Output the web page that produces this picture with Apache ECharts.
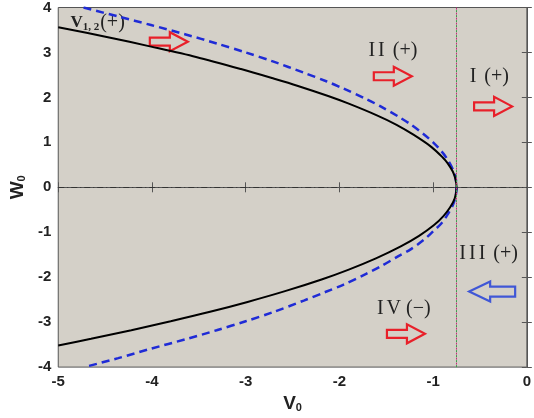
<!DOCTYPE html>
<html>
<head>
<meta charset="utf-8">
<script src="https://cdn.jsdelivr.net/npm/echarts@6/dist/echarts.min.js"></script>
<style>
  html, body { margin: 0; padding: 0; background: #fff; }
  #main { width: 534px; height: 418px; }
</style>
</head>
<body>
<div id="main"></div>
<script>
// curves, [V0, W0]
var blackUpper = [[-5.0,3.56],[-4.47,3.34],[-4.01,3.13],[-3.53,2.90],[-3.05,2.63],[-2.72,2.43],[-2.45,2.26],
  [-2.12,2.03],[-1.90,1.86],[-1.60,1.6],[-1.39,1.39],[-1.21,1.17],[-1.02,0.9],[-0.90,0.67],[-0.85,0.55],
  [-0.79,0.35],[-0.76,0.17],[-0.75,0]];
var blackLower = [[-0.77,-0.25],[-0.82,-0.45],[-0.89,-0.64],[-0.99,-0.84],[-1.15,-1.08],[-1.35,-1.32],
  [-1.61,-1.58],[-1.90,-1.83],[-2.19,-2.05],[-2.58,-2.31],[-2.98,-2.55],[-3.38,-2.77],[-3.80,-2.98],
  [-4.22,-3.18],[-4.65,-3.37],[-5.0,-3.52]];
var blueUpper = [[-4.73,4.0],[-4.36,3.8],[-4.01,3.61],[-3.64,3.4],[-3.31,3.2],[-3.0,3.0],[-2.71,2.8],
  [-2.38,2.55],[-2.14,2.36],[-1.96,2.2],[-1.71,1.96],[-1.56,1.8],[-1.36,1.56],[-1.24,1.4],[-1.10,1.18],
  [-1.0,1.0],[-0.91,0.8],[-0.85,0.63],[-0.79,0.4],[-0.76,0.2],[-0.75,0]];
var blueLower = [[-0.76,-0.2],[-0.79,-0.4],[-0.85,-0.62],[-0.91,-0.8],[-1.0,-0.98],[-1.10,-1.17],
  [-1.24,-1.38],[-1.37,-1.53],[-1.56,-1.76],[-1.72,-1.93],[-1.96,-2.17],[-2.15,-2.33],[-2.38,-2.52],
  [-2.71,-2.78],[-3.0,-2.98],[-3.31,-3.18],[-3.64,-3.38],[-4.01,-3.59],[-4.36,-3.8],[-4.72,-4.0]];
var vLine = -0.75;

// region labels and arrows (data coords)
var regionLabels = [
  {text: '{v|V}{s|1, 2}{p|(+)}', at: [-4.87, 3.67]},
  {text: '{r|I}{r|I}{p| (+)}', at: [-1.69, 3.04]},
  {text: '{r|I}{p| (+)}', at: [-0.61, 2.47]},
  {text: '{r|I}{r|I}{r|I}{p| (+)}', at: [-0.72, -1.47]},
  {text: '{r|I}{p|V (\u2212)}', at: [-1.60, -2.71]}
];
var arrows = [
  {at: [-3.82, 3.24], dir: 1, color: '#e8202a'},
  {at: [-1.43, 2.47], dir: 1, color: '#e8202a'},
  {at: [-0.36, 1.80], dir: 1, color: '#e8202a'},
  {at: [-1.29, -3.26], dir: 1, color: '#e8202a'},
  {at: [-0.37, -2.32], dir: -1, color: '#4057d6', big: true}
];

var myChart = echarts.init(document.getElementById('main'));

var lblFont = {fontFamily: 'Liberation Sans, Arial', fontWeight: 'bold', fontSize: 15, color: '#222'};
var nameRich = {
  b: {fontFamily: 'Liberation Sans, Arial', fontWeight: 'bold', fontSize: 19, color: '#222'},
  s: {fontFamily: 'Liberation Sans, Arial', fontWeight: 'bold', fontSize: 11, color: '#222', verticalAlign: 'bottom', padding: [8, 0, 0, 0]}
};

var option = {
  animation: false,
  backgroundColor: '#fff',
  grid: {left: 55, right: 3, top: 7, bottom: 44, show: true, backgroundColor: '#d4d0c8', borderColor: '#555', borderWidth: 1},
  xAxis: [{
    type: 'value', min: -5, max: 0, interval: 1, position: 'bottom',
    name: '{b|V}{s|0}', nameLocation: 'middle', nameGap: 20,
    nameTextStyle: {rich: nameRich},
    axisLine: {lineStyle: {color: '#555'}},
    axisTick: {inside: true, length: 5, lineStyle: {color: '#555'}},
    axisLabel: Object.assign({margin: 7}, lblFont),
    splitLine: {show: false}
  }, {
    type: 'value', min: -5, max: 0, interval: 1, position: 'top',
    axisLine: {lineStyle: {color: '#555'}},
    axisTick: {inside: true, length: 5, lineStyle: {color: '#555'}},
    axisLabel: {show: false}, splitLine: {show: false}
  }],
  yAxis: [{
    type: 'value', min: -4, max: 4, interval: 1, position: 'left',
    name: '{b|W}{s|0}', nameLocation: 'middle', nameGap: 27,
    nameTextStyle: {rich: nameRich},
    axisLine: {lineStyle: {color: '#555'}},
    axisTick: {inside: true, length: 5, lineStyle: {color: '#555'}},
    axisLabel: Object.assign({margin: 7}, lblFont),
    splitLine: {show: false}
  }, {
    type: 'value', min: -4, max: 4, interval: 1, position: 'right',
    axisLine: {lineStyle: {color: '#555'}},
    axisTick: {inside: true, length: 5, lineStyle: {color: '#555'}},
    axisLabel: {show: false}, splitLine: {show: false}
  }],
  series: [
    {
      type: 'line', data: [], silent: true,
      markLine: {
        silent: true, symbol: 'none', label: {show: false},
        data: [{yAxis: 0, lineStyle: {color: '#333', width: 1, type: [6, 3, 1, 3]}}]
      }
    },
    {
      type: 'line', data: [], silent: true,
      markLine: {
        silent: true, symbol: 'none', label: {show: false},
        data: [{xAxis: vLine, lineStyle: {color: '#3aa04a', width: 1, type: [2, 3]}}]
      }
    },
    {
      type: 'line', data: [], silent: true,
      markLine: {
        silent: true, symbol: 'none', label: {show: false},
        data: [{xAxis: vLine, lineStyle: {color: '#c0307a', width: 1, type: [2, 3], dashOffset: 2.5}}]
      }
    },
    {
      name: 'blue', type: 'line', showSymbol: false, smooth: 0.3,
      data: blueUpper.concat(blueLower),
      lineStyle: {color: '#1f2bd6', width: 2.5, type: [8, 5]}
    },
    {
      name: 'black', type: 'line', showSymbol: false, smooth: 0.3,
      data: blackUpper.concat(blackLower),
      lineStyle: {color: '#000', width: 2}
    }
  ]
};
myChart.setOption(option);

// annotations placed through the chart's own coordinate system
var serif = 'Liberation Serif, Times New Roman';
var gfx = [];
regionLabels.forEach(function (r) {
  var p = myChart.convertToPixel({gridIndex: 0}, r.at);
  gfx.push({
    type: 'text', x: p[0], y: p[1], silent: true,
    style: {
      text: r.text, verticalAlign: 'middle',
      rich: {
        v: {fontFamily: serif, fontSize: 17, fontWeight: 'bold', fill: '#222'},
        s: {fontFamily: serif, fontSize: 11, fontWeight: 'bold', fill: '#222', verticalAlign: 'bottom', padding: [6, 1, 0, 0]},
        r: {fontFamily: serif, fontSize: 20, fill: '#222', padding: [0, 3, 0, 0]},
        p: {fontFamily: serif, fontSize: 20, fill: '#222'}
      }
    }
  });
});
arrows.forEach(function (a) {
  var p = myChart.convertToPixel({gridIndex: 0}, a.at);
  var half = a.big ? 23 : 19, hh = a.big ? 10 : 9.5, sh = a.big ? 5 : 4, base = a.big ? 2 : 1;
  var pts = [[-half, -sh], [base, -sh], [base, -hh], [half, 0], [base, hh], [base, sh], [-half, sh]];
  pts = pts.map(function (q) { return [p[0] + q[0] * a.dir, p[1] + q[1]]; });
  gfx.push({
    type: 'polygon', silent: true,
    shape: {points: pts},
    style: {fill: 'none', stroke: a.color, lineWidth: 2.2}
  });
});
myChart.setOption({graphic: gfx});
</script>
</body>
</html>
